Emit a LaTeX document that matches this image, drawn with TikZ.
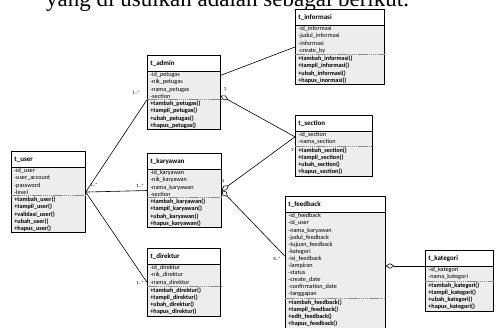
\documentclass[tikz,border=0pt]{standalone}
\usepackage{fontspec}
\setmainfont{Liberation Serif}
\newfontfamily\clsfont{Carlito}
\usetikzlibrary{arrows,shapes.multipart}

\begin{document}
\begin{tikzpicture}[x=1pt,y=-1pt,
   every node/.style = {font=\clsfont\fontsize{6.2}{7.1}\selectfont},
          cls/.style = {rectangle split, rectangle split parts=3,
                        rectangle split draw splits=false, draw, line width=0.7pt,
                        rectangle split part fill={white,black!7,black!7},
                        anchor=north west, text width=#1, align=left,
                        inner xsep=3pt, inner ysep=1.2pt},
          lbl/.style = {font=\clsfont\fontsize{4.8}{5}\selectfont, inner sep=0.5pt},
         conn/.style = {line width=0.6pt},
       sepline/.style = {black!45, line width=1.1pt, dash pattern=on 1.5pt off 0.6pt}
                        ]
\newcommand\ttl[1]{\rule[-4pt]{0pt}{12.5pt}{\fontsize{7}{8}\selectfont\bfseries #1}\color{black!75}}
\useasboundingbox (0,0) rectangle (497,328);
\clip (0,0) rectangle (497,328);
\node (intro) [anchor=base west, inner sep=0pt, font=\fontsize{23}{26}\selectfont] at (46,7)
  {yang di usulkan adalah sebagai berikut.};
% kelas
\node (informasi) [cls=83pt] at (295,9) {\ttl{t\_informasi}
  \nodepart{two} -id\_informasi\\-judul\_informasi\\-informasi\\-create\_by
  \nodepart{three}\bfseries +tambah\_informasi()\\+tampil\_informasi()\\+ubah\_informasi()\\+hapus\_inormasi()};
\node (admin) [cls=67pt] at (147,55) {\ttl{t\_admin}
  \nodepart{two} -id\_petugas\\-nik\_petugas\\-nama\_petugas\\-section
  \nodepart{three}\bfseries +tambah\_petugas()\\+tampil\_petugas()\\+ubah\_petugas()\\+hapus\_petugas()};
\node (user) [cls=68pt] at (11,151) {\ttl{t\_user}
  \nodepart{two} -id\_user\\-user\_account\\-password\\-level
  \nodepart{three}\bfseries +tambah\_user()\\+tampil\_user()\\+validasi\_user()\\+ubah\_user()\\+hapus\_user()};
\node (karyawan) [cls=68pt] at (147,153) {\ttl{t\_karyawan}
  \nodepart{two} -id\_karyawan\\-nik\_karyawan\\-nama\_karyawan\\-section
  \nodepart{three}\bfseries +tambah\_karyawan()\\+tampil\_karyawan()\\+ubah\_karyawan()\\+hapus\_karyawan()};
\node (direktur) [cls=67pt] at (147,248) {\ttl{t\_direktur}
  \nodepart{two} -id\_direktur\\-nik\_direktur\\-nama\_direktur
  \nodepart{three}\bfseries +tambah\_direktur()\\+tampil\_direktur()\\+ubah\_direktur()\\+hapus\_direktur()};
\node (section) [cls=71pt] at (295,115) {\ttl{t\_section}
  \nodepart{two} -id\_section\\-nama\_section
  \nodepart{three}\bfseries +tambah\_section()\\+tampil\_section()\\+ubah\_section()\\+hapus\_section()};
\node (feedback) [cls=94pt] at (285,196) {\ttl{t\_feedback}
  \nodepart{two} -id\_feedback\\-id\_user\\-nama\_karyawan\\-judul\_feedback\\-tujuan\_feedback\\-kategori\\-isi\_feedback\\-lampiran\\-status\\-create\_date\\-confirmation\_date\\-tanggapan
  \nodepart{three}\bfseries +tambah\_feedback()\\+tampil\_feedback()\\+edit\_feedback()\\+hapus\_feedback()};
\node (kategori) [cls=62pt] at (425,250) {\ttl{t\_kategori}
  \nodepart{two} -id\_kategori\\-nama\_kategori
  \nodepart{three}\bfseries +tambah\_kategori()\\+tampil\_kategori()\\+ubah\_kategori()\\+hapus\_kategori()};
\foreach \c in {informasi,admin,user,karyawan,direktur,section,feedback,kategori}{
  \draw[line width=0.7pt] (\c.text split west) -- (\c.text split east);
  \draw[sepline] (\c.two split west) -- (\c.two split east);
}
% relasi
\draw[conn] (user.east) -- (admin.two split west);
\draw[conn] (user.east) -- (karyawan.west);
\draw[conn] (user.east) -- (direktur.west);
\draw[conn] (admin.25) -- (informasi.west);
\draw[conn, open diamond-] (admin.-5) -- (section.167);
\draw[conn, open diamond-] (karyawan.east) -- (section.167);
\draw[conn, open diamond-] (karyawan.east) -- (feedback.173);
\draw[conn, open diamond-] (feedback.east |- kategori.text split west) -- (kategori.text split west);
% multiplicity
\node (m1) [lbl] at (94,185) {1..*};
\node (m2) [lbl] at (136,93) {1..*};
\node (m3) [lbl] at (140,186) {1..*};
\node (m4) [lbl] at (140,283) {1..*};
\node (m5) [lbl] at (225,89) {1};
\node (m6) [lbl] at (223,181) {1};
\node (m7) [lbl] at (292,150) {1};
\node (m8) [lbl] at (277,259) {0..*};
\end{tikzpicture}
\end{document}
